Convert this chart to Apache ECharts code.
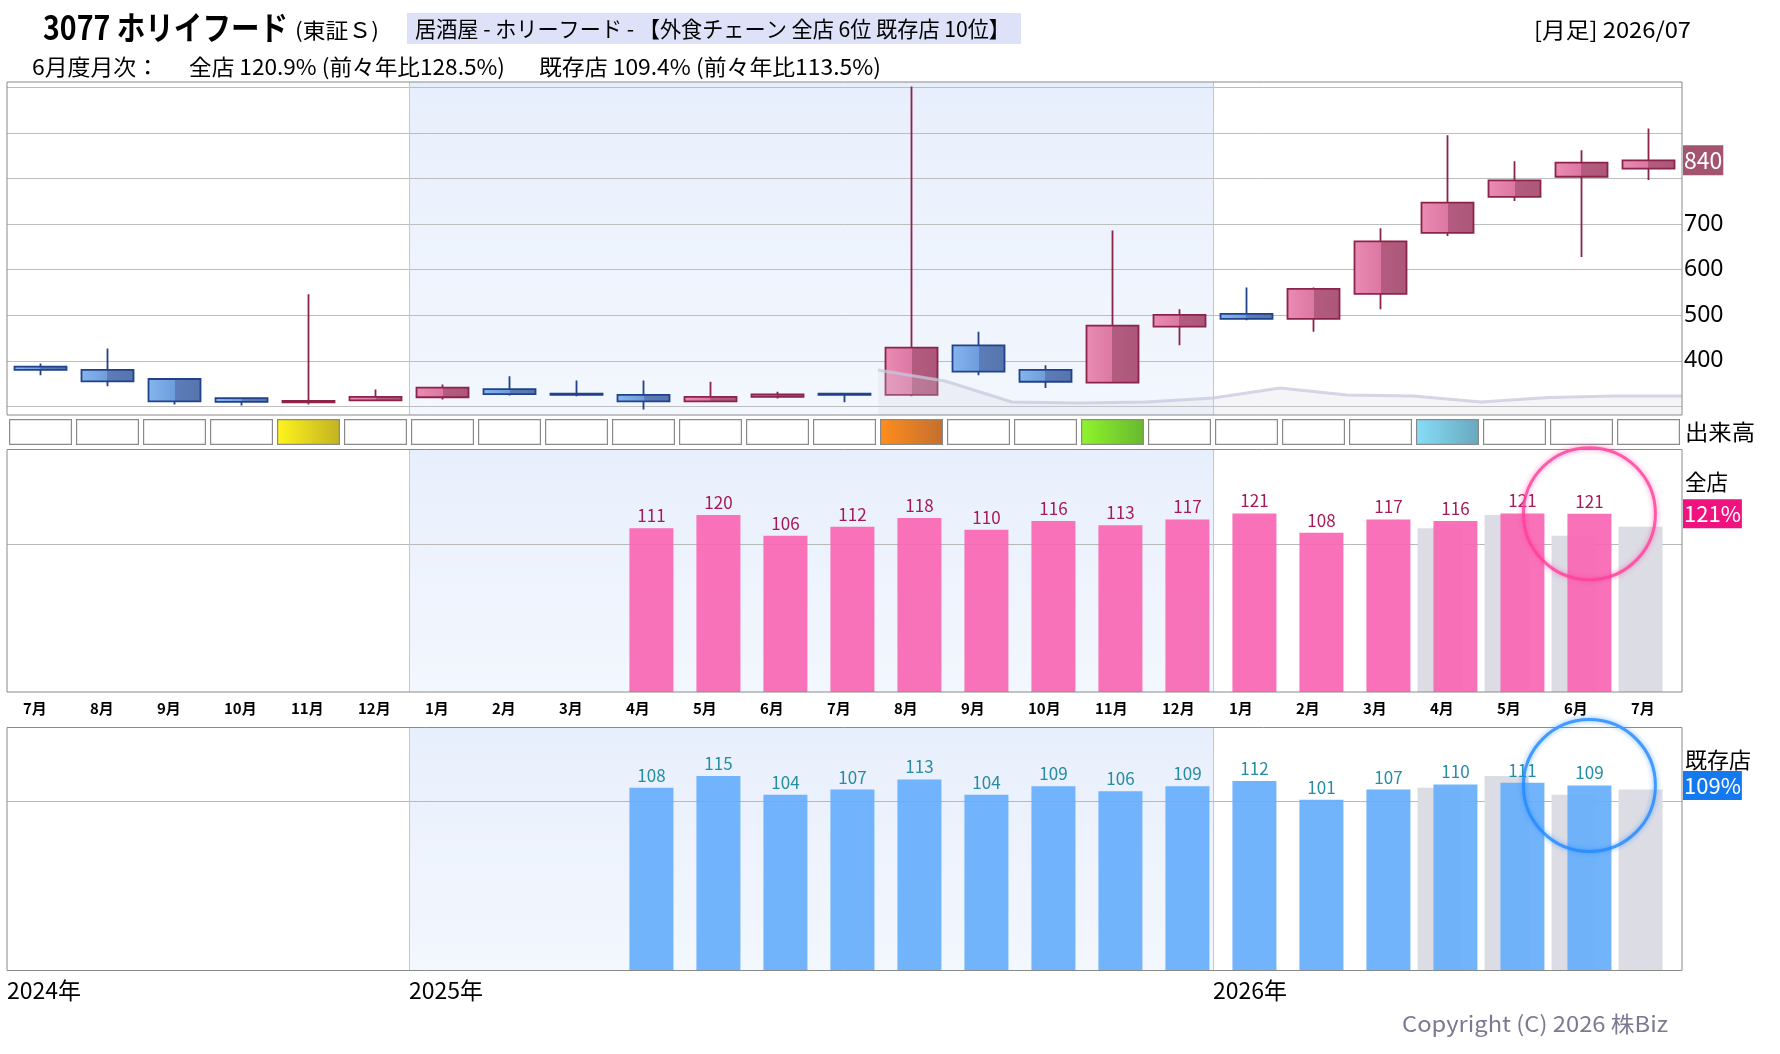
<!DOCTYPE html>
<html lang="ja">
<head>
<meta charset="utf-8">
<title>3077 ホリイフード 月足</title>
<script src="https://cdn.jsdelivr.net/npm/echarts@6/dist/echarts.min.js"></script>
<style>
  html, body { margin: 0; padding: 0; background: #fff; }
  #chart { width: 1780px; height: 1054px; }
</style>
</head>
<body>
<div id="chart"></div>
<script>
// 月（2024/07〜2026/07）
const months = ['2024-07', '2024-08', '2024-09', '2024-10', '2024-11', '2024-12',
  '2025-01', '2025-02', '2025-03', '2025-04', '2025-05', '2025-06',
  '2025-07', '2025-08', '2025-09', '2025-10', '2025-11', '2025-12',
  '2026-01', '2026-02', '2026-03', '2026-04', '2026-05', '2026-06', '2026-07']

// 月足 四本値
const openPrice  = [387, 380, 360, 318, 309, 313, 320, 338, 328, 325, 311, 321, 328, 325, 434, 380, 352, 475, 503, 492, 547, 681, 760, 804, 822]
const closePrice = [380, 355, 311, 310, 312, 321, 341, 327, 325, 311, 321, 326, 325, 429, 376, 354, 477, 501, 492, 558, 662, 747, 796, 835, 840]
const lowPrice   = [368, 344, 304, 302, 304, 311, 315, 324, 322, 293, 309, 317, 309, 322, 368, 340, 350, 434, 489, 464, 513, 674, 751, 628, 797]
const highPrice  = [394, 427, 360, 319, 546, 337, 348, 366, 357, 357, 354, 332, 328, 1002, 464, 390, 686, 513, 561, 561, 691, 895, 838, 862, 910]

// 出来高ランク（0 = 通常）
const volumeRank = [0, 0, 0, 0, 1, 0, 0, 0, 0, 0, 0, 0, 0, 2, 0, 0, 3, 0, 0, 0, 0, 4, 0, 0, 0]
// 出来高の推移（相対値、月の境目ごと）
const volumeTrendAt = [13, 14, 15, 16, 17, 18, 19, 20, 21, 22, 23, 24, 25]
const volumeTrend   = [45, 34, 13, 12, 13, 17, 27, 20, 19, 13, 17.5, 19, 19]

// 月次 前年比（%）
const zenten = [null, null, null, null, null, null, null, null, null,
  111, 120, 106, 112, 118, 110, 116, 113, 117, 121, 108, 117, 116, 121, 120.9, null]
const kizon = [null, null, null, null, null, null, null, null, null,
  108, 115, 104, 107, 113, 104, 109, 106, 109, 112, 101, 107, 110, 111, 109.4, null]
const zentenTwoYear = 128.5
const kizonTwoYear = 113.5

const FONT = '"Noto Sans CJK JP", "Noto Sans", sans-serif'
const N = months.length
const lastCandle = closePrice.length - 1
let latest = zenten.length - 1
while (zenten[latest] == null) latest--

// 年の境目（1月）
const yearStarts = months.map((m, i) => (m.endsWith('-01') ? i : -1)).filter(i => i >= 0)
const prevYear = arr => arr.map((v, i) => (i >= 12 ? arr[i - 12] : null))

const grad = (stops, vertical) =>
  new echarts.graphic.LinearGradient(0, 0, vertical ? 0 : 1, vertical ? 1 : 0,
    stops.map(([offset, color]) => ({ offset, color })))

const shade = grad([[0, '#e8effc'], [1, '#f3f7fe']], true)
const rankColors = [null,
  ['#fff41c', '#c2b222'],
  ['#ff8d1c', '#c46f2e'],
  ['#8ff52b', '#68b82f'],
  ['#88ddf8', '#68a8be']]

// 文字幅を元図に合わせる
const measureCtx = document.createElement('canvas').getContext('2d')
function fitText (text, x, y, width, font, fill) {
  measureCtx.font = font
  const scaleX = width / measureCtx.measureText(text).width
  return {
    type: 'text', x, y, scaleX, silent: true,
    style: { text, font, fill: fill || '#000', align: 'left', verticalAlign: 'middle' }
  }
}

// 2025年の背景と年の区切り線
function yearBackdrop (xAxisIndex, yAxisIndex) {
  return {
    type: 'line', xAxisIndex, yAxisIndex, data: [], silent: true,
    markArea: {
      silent: true, z: 1,
      itemStyle: { color: shade },
      data: [[{ xAxis: yearStarts[0] }, { xAxis: yearStarts[1] }]]
    },
    markLine: {
      silent: true, symbol: ['none', 'none'], label: { show: false },
      lineStyle: { color: '#c6c6c6', width: 1, type: 'solid' },
      data: yearStarts.map(i => ({ xAxis: i }))
    }
  }
}

// 右端の値タグ
function valueTag (value, text, bg, fontSize) {
  return {
    silent: true, symbol: ['none', 'none'],
    lineStyle: { color: 'rgba(0,0,0,0)' },
    data: [{ yAxis: value }],
    label: {
      show: true, position: 'end', distance: 1, formatter: text,
      color: '#fff', backgroundColor: bg, fontSize, fontFamily: FONT, padding: [4, 1, 3, 1]
    }
  }
}

function ring (color) {
  return {
    silent: true, symbol: 'circle', symbolSize: 132,
    label: { show: false },
    itemStyle: { color: 'rgba(0,0,0,0)', borderColor: color, borderWidth: 3, shadowBlur: 5, shadowColor: color },
    data: []
  }
}

const chart = echarts.init(document.getElementById('chart'))

const grids = [
  { left: 7, top: 82, width: 1675, height: 333 },
  { left: 7, top: 419, width: 1675, height: 26 },
  { left: 7, top: 449.5, width: 1675, height: 242.5 },
  { left: 7, top: 727.5, width: 1675, height: 243 }
].map((g, i) => ({
  ...g, show: i !== 1, z: 10, backgroundColor: 'rgba(0,0,0,0)',
  borderColor: '#8a8a8a', borderWidth: 1
}))

const catAxis = gridIndex => ({ type: 'category', gridIndex, data: months, show: false })
const valAxis = (gridIndex, extra) => ({
  type: 'value', gridIndex, min: 0, max: N, interval: 1, show: false, ...extra
})

const zentenRing = ring('rgba(255,62,156,0.8)')
zentenRing.data = [{ coord: [latest, zenten[latest]] }]
const kizonRing = ring('rgba(34,138,255,0.8)')
kizonRing.data = [{ coord: [latest, kizon[latest]] }]

const option = {
  animation: false,
  textStyle: { fontFamily: FONT },
  grid: grids,
  xAxis: [
    catAxis(0), catAxis(1), catAxis(2), catAxis(3),
    valAxis(0),
    valAxis(2, {
      show: true, position: 'bottom',
      axisLine: { show: false }, axisTick: { show: false }, splitLine: { show: false },
      axisLabel: {
        formatter: v => (v < N ? parseInt(months[v].slice(5), 10) + '月' : ''),
        align: 'left', padding: [0, 0, 0, 16], margin: 9,
        fontSize: 15, fontWeight: 'bold', color: '#000'
      }
    }),
    valAxis(3, {
      show: true, position: 'bottom',
      axisLine: { show: false }, axisTick: { show: false }, splitLine: { show: false },
      axisLabel: {
        formatter: v => (v < N && (v === 0 || months[v].endsWith('-01')) ? months[v].slice(0, 4) + '年' : ''),
        align: 'left', margin: 8, fontSize: 23, color: '#000'
      }
    })
  ],
  yAxis: [
    {
      type: 'value', gridIndex: 0, min: 281, max: 1012, position: 'right', z: 1.5,
      axisLine: { show: false },
      axisTick: { show: false, customValues: [300, 400, 500, 600, 700, 800, 900, 1000] },
      splitLine: { show: true, lineStyle: { color: '#bdbdbd', width: 1 } },
      axisLabel: { customValues: [400, 500, 600, 700], margin: 2, fontSize: 23, color: '#000', fontFamily: '"Noto Sans", sans-serif' }
    },
    { type: 'value', gridIndex: 0, min: 0, max: 333, show: false, splitLine: { show: false } },
    { type: 'value', gridIndex: 1, min: 0, max: 1, show: false, splitLine: { show: false } },
    {
      type: 'value', gridIndex: 2, min: 0, max: 164.4, position: 'right', z: 1.5,
      axisLine: { show: false }, axisLabel: { show: false },
      axisTick: { show: false, customValues: [100] },
      splitLine: { show: true, lineStyle: { color: '#b8b8b8', width: 1 } }
    },
    {
      type: 'value', gridIndex: 3, min: 0, max: 143.7, position: 'right', z: 1.5,
      axisLine: { show: false }, axisLabel: { show: false },
      axisTick: { show: false, customValues: [100] },
      splitLine: { show: true, lineStyle: { color: '#b8b8b8', width: 1 } }
    }
  ],
  series: [
    yearBackdrop(4, 0),
    {
      name: '株価', type: 'candlestick', xAxisIndex: 0, yAxisIndex: 0, barWidth: 52, silent: true,
      data: months.map((m, i) => [openPrice[i], closePrice[i], lowPrice[i], highPrice[i]]),
      itemStyle: {
        color: grad([[0, '#e98cb4'], [0.5, '#dc78a3'], [0.5, '#b45c80'], [1, '#ab577a']]),
        color0: grad([[0, '#86b6ee'], [0.5, '#6e9ddb'], [0.5, '#5c7db9'], [1, '#5674ad']]),
        borderColor: '#8c2349', borderColor0: '#22418b', borderWidth: 1.8
      },
      markLine: Object.assign(valueTag(closePrice[lastCandle], String(closePrice[lastCandle]), '#a3546f', 23), {})
    },
    {
      name: '出来高推移', type: 'line', xAxisIndex: 4, yAxisIndex: 1, silent: true,
      data: volumeTrendAt.map((x, i) => [x, volumeTrend[i]]),
      symbol: 'none',
      lineStyle: { color: 'rgba(200,200,220,0.75)', width: 3 },
      areaStyle: { color: 'rgba(214,214,226,0.35)' }
    },
    {
      name: '出来高', type: 'bar', xAxisIndex: 1, yAxisIndex: 2, barWidth: 63, silent: true,
      data: volumeRank.map(r => (r
        ? { value: 1, itemStyle: { color: grad([[0, rankColors[r][0]], [1, rankColors[r][1]]]) } }
        : 1)),
      itemStyle: { color: '#fff', borderColor: '#8a8a8a', borderWidth: 1.2 }
    },
    yearBackdrop(5, 3),
    {
      name: '全店 前年同月', type: 'bar', xAxisIndex: 2, yAxisIndex: 3, barWidth: 44, barGap: '-64%', silent: true,
      data: prevYear(zenten),
      itemStyle: { color: '#dcdce5' }
    },
    {
      name: '全店', type: 'bar', xAxisIndex: 2, yAxisIndex: 3, barWidth: 44, barGap: '-64%', silent: true,
      data: zenten,
      itemStyle: { color: '#f866b3', opacity: 0.92 },
      label: { show: true, position: 'top', distance: 4, fontSize: 17, color: '#a0064a', formatter: p => Math.round(p.value) },
      markPoint: zentenRing,
      markLine: valueTag(zenten[latest], Math.round(zenten[latest]) + '%', '#ef127f', 22)
    },
    yearBackdrop(6, 4),
    {
      name: '既存店 前年同月', type: 'bar', xAxisIndex: 3, yAxisIndex: 4, barWidth: 44, barGap: '-64%', silent: true,
      data: prevYear(kizon),
      itemStyle: { color: '#dcdce5' }
    },
    {
      name: '既存店', type: 'bar', xAxisIndex: 3, yAxisIndex: 4, barWidth: 44, barGap: '-64%', silent: true,
      data: kizon,
      itemStyle: { color: '#66aefc', opacity: 0.92 },
      label: { show: true, position: 'top', distance: 4, fontSize: 17, color: '#13839a', formatter: p => Math.round(p.value) },
      markPoint: kizonRing,
      markLine: valueTag(kizon[latest], Math.round(kizon[latest]) + '%', '#1478ef', 22)
    }
  ],
  graphic: [
    fitText('3077 ホリイフード', 43, 27, 245, 'bold 33px ' + FONT),
    fitText('(東証Ｓ)', 295, 30, 84, '21px ' + FONT),
    { type: 'rect', silent: true, shape: { x: 407, y: 13, width: 614, height: 31 }, style: { fill: '#dde2f9' } },
    fitText('居酒屋 - ホリーフード - 【外食チェーン 全店 6位 既存店 10位】', 415, 29, 595, '22px ' + FONT),
    fitText('[月足] 2026/07', 1534, 30, 157, '22px ' + FONT),
    fitText(parseInt(months[latest].slice(5), 10) + '月度月次：', 32, 66.5, 127, '22px ' + FONT),
    fitText('全店 ' + zenten[latest].toFixed(1) + '% (前々年比' + zentenTwoYear.toFixed(1) + '%)', 189, 66.5, 316, '22px ' + FONT),
    fitText('既存店 ' + kizon[latest].toFixed(1) + '% (前々年比' + kizonTwoYear.toFixed(1) + '%)', 539, 66.5, 342, '22px ' + FONT),
    fitText('出来高', 1685, 432, 70, '22px ' + FONT),
    fitText('全店', 1685, 482, 43, '22px ' + FONT),
    fitText('既存店', 1685, 760, 66, '22px ' + FONT),
    fitText('Copyright (C) 2026 株Biz', 1402, 1024, 266, '22px ' + FONT, '#7b7a92')
  ]
}

chart.setOption(option)
</script>
</body>
</html>
